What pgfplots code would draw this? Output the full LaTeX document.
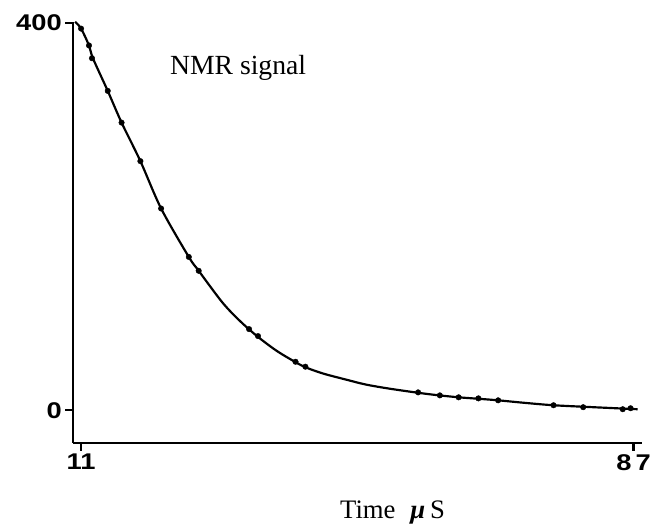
\documentclass[border=0pt]{standalone}
\usepackage{fontspec}
\setmainfont{Liberation Serif}
\newfontfamily\tickfont{Liberation Sans}[FakeStretch=1.2]
\usepackage{pgfplots}
\pgfplotsset{compat=1.18}
\begin{document}
\begin{tikzpicture}
\begin{axis}[
    width=575pt, height=426pt, scale only axis,
    xmin=9.91, xmax=88.1, ymin=-33.7, ymax=401,
    axis x line=bottom, axis y line=left,
    axis line style={-, line width=2pt},
    xtick={11,87}, xticklabels={11,{8\hspace{4pt}7}},
    ytick={0,400},
    tick align=outside, major tick length=8pt,
    tick style={line width=2.4pt, black},
    ticklabel style={font=\fontsize{23}{23}\tickfont\bfseries},
    /pgf/number format/assume math mode=true,
    clip=false,
]
% fitted curve
\addplot[smooth, line width=2.2pt] coordinates {
(10.18,401.0) (11.0,393.9) (12.09,376.5) (12.63,363.3) (14.67,329.6)
(16.57,296.9) (19.16,257.1) (22.01,208.2) (25.82,158.2) (27.18,143.9)
(30.44,111.2) (32.8,92.5) (35.20,76.5) (37.92,61.2) (40.64,49.0)
(42.0,43.9) (44.31,37.8) (47.44,31.6) (50.16,26.5) (53.28,22.4)
(56.95,18.4) (59.67,15.8) (62.94,13.3) (65.66,11.8) (68.37,10.2)
(72.0,7.6) (75.99,5.1) (81.43,3.1) (87.55,1.0)
};
% measured points
\addplot[only marks, mark=*, mark size=2.8pt] coordinates {
(11.0,393.9) (12.09,376.5) (12.50,363.3) (14.67,329.6) (16.57,296.9)
(19.16,257.1) (22.01,208.2) (25.82,158.2) (27.18,143.9) (34.11,83.7)
(35.34,76.5) (40.50,50.0) (41.86,44.9) (57.36,18.4) (60.35,15.3)
(62.94,13.3) (65.66,12.2) (68.37,10.2) (75.99,5.1) (80.07,3.1)
(85.51,1.0) (86.59,2.0)
};
\node[anchor=base, font=\fontsize{28}{28}\selectfont] at (axis cs:32.6,347) {NMR signal};
\node[anchor=base, font=\fontsize{27}{27}\selectfont] at (axis description cs:0.562,-0.180) {Time\hspace{15pt}\textbf{\textit{μ}}\hspace{5pt}S};
\path (axis description cs:-0.1287,1.0516) rectangle (axis description cs:1.0087,-0.1831);
\end{axis}
\end{tikzpicture}
\end{document}
